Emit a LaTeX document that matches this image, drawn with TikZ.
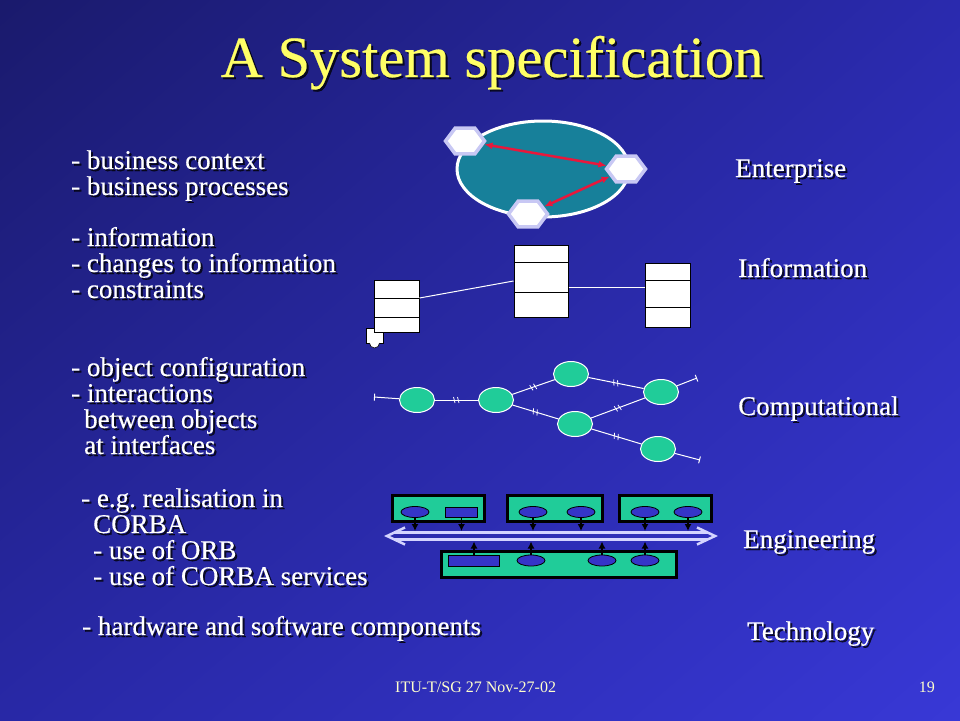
\documentclass[tikz,border=0pt]{standalone}
\usepackage{fontspec}
\setmainfont{Liberation Serif}
\newfontfamily\slidefont{Liberation Serif}[FakeBold=0.4]
\usetikzlibrary{calc, positioning, shapes.geometric, shadings, decorations.markings, arrows.meta}

\definecolor{bgUL}{HTML}{1A1A6C}
\definecolor{bgUR}{HTML}{2A2AAE}
\definecolor{bgLL}{HTML}{2828A6}
\definecolor{bgLR}{HTML}{3838D6}
\definecolor{titleyellow}{HTML}{FFFF66}
\definecolor{footyellow}{HTML}{FFFFCC}
\definecolor{entteal}{HTML}{17809A}
\definecolor{hexrim}{HTML}{C8C8F4}
\definecolor{arrowred}{HTML}{E8183C}
\definecolor{objgreen}{HTML}{20CC99}
\definecolor{compblue}{HTML}{3535C8}
\definecolor{buslilac}{HTML}{D4D4FF}

% text with a dark drop shadow
\newcommand{\stext}[4]{%
  \node[#1, text=black, opacity=.75] at ($(#3)+(2,2)$) {#4};
  \node[#1] (#2) at (#3) {#4};}

\tikzset{
  title/.style={font=\slidefont\fontsize{58.5}{60}\selectfont, text=titleyellow, anchor=base, inner sep=0},
  point/.style={font=\slidefont\fontsize{27}{26}\selectfont, text=white, anchor=base west, inner sep=0, align=left},
  level/.style={font=\slidefont\fontsize{27}{28}\selectfont, text=white, anchor=base west, inner sep=0},
  footer/.style={font=\fontsize{16}{18}\selectfont, text=footyellow, inner sep=0},
  hexa/.style={regular polygon, regular polygon sides=6, minimum size=30pt, xscale=1.3,
    fill=white, draw=hexrim, line width=3.5pt, inner sep=0},
  relarrow/.style={draw=arrowred, line width=2.5pt,
    {Latex[length=8pt,width=7pt]}-{Latex[length=8pt,width=7pt]}},
  cls/.style={draw=black, fill=white, line width=1pt, inner sep=0},
  assoc/.style={draw=white, line width=1pt},
  obj/.style={ellipse, fill=objgreen, draw=white, line width=1pt,
    minimum width=35, minimum height=25, inner sep=0},
  binding/.style={draw=white, line width=1pt, postaction={decorate},
    decoration={markings, mark=at position .5 with
      {\draw[line width=.8pt] (-3,-3) -- (-1.5,3) (1,-3) -- (2.5,3);}}},
  stub/.style={draw=white, line width=1pt, -{Bar[width=7pt]}},
  capsule/.style={draw=black, line width=3pt, fill=objgreen, inner sep=0, minimum height=26},
  comp/.style={ellipse, draw=black, line width=.8pt, fill=compblue,
    minimum width=28, minimum height=11, inner sep=0},
  compbox/.style={rectangle, draw=black, line width=.8pt, fill=compblue,
    minimum height=10, inner sep=0},
  bus/.style={draw=buslilac, line width=2.5pt},
  tap/.style={draw=black, line width=1.3pt, -{Latex[length=7pt,width=7pt]}},
}

\begin{document}
\begin{tikzpicture}[x=1pt, y=-1pt]
  \useasboundingbox (0,0) rectangle (960,720);
  \shade[upper left=bgUL, upper right=bgUR, lower left=bgLL, lower right=bgLR]
    (0,0) rectangle (960,720);

  % title and footer
  \stext{title}{heading}{492,77}{A System specification}
  \node[footer, anchor=base west] (footL) at (395,692) {ITU-T/SG 27 Nov-27-02};
  \node[footer, anchor=base east] (footR) at (935,692) {19};

  % left column (positions are the baselines of the last lines)
  \stext{point}{bizText}{71,195}{- business context\\- business processes}
  \stext{point}{infoText}{71,298}{- information\\- changes to information\\- constraints}
  \stext{point}{compText}{71,454}{- object configuration\\- interactions\\
    \hspace*{13pt}between objects\\\hspace*{13pt}at interfaces}
  \stext{point}{engText}{81,585}{- e.g.\ realisation in\\\hspace*{12pt}CORBA\\
    \hspace*{12pt}- use of ORB\\\hspace*{12pt}- use of CORBA services}
  \stext{point}{techText}{82,635}{- hardware and software components}

  % right column
  \stext{level}{enterprise}{735,177}{Enterprise}
  \stext{level}{information}{738,277}{Information}
  \stext{level}{computational}{738,415}{Computational}
  \stext{level}{engineering}{743,548}{Engineering}
  \stext{level}{technology}{747,640}{Technology}

  % enterprise
  \node[ellipse, draw=white, line width=3pt, fill=entteal, minimum width=172,
    minimum height=96] (community) at (543,169) {};
  \node[hexa] (role1) at (465,141) {};
  \node[hexa] (role2) at (626,169) {};
  \node[hexa] (role3) at (528,214) {};
  \draw[relarrow] (role1) -- (role2);
  \draw[relarrow] (role2) -- (role3);

  % information
  \draw[draw=black, fill=white, line width=.8pt] (366,328) rectangle (383,343);
  \draw[draw=black, fill=white, line width=.6pt] (369.5,343) arc[start angle=180, end angle=0, radius=5];
  \node[cls, minimum width=45, minimum height=52] (typeA) at (396.5,306) {};
  \node[cls, minimum width=54, minimum height=72] (typeB) at (541,281) {};
  \node[cls, minimum width=45, minimum height=64] (typeC) at (667.5,295) {};
  \draw ([yshift=-19pt]typeA.north west) -- ([yshift=-19pt]typeA.north east)
        ([yshift=-38pt]typeA.north west) -- ([yshift=-38pt]typeA.north east);
  \draw ([yshift=-18pt]typeB.north west) -- ([yshift=-18pt]typeB.north east)
        ([yshift=-48pt]typeB.north west) -- ([yshift=-48pt]typeB.north east);
  \draw ([yshift=-18pt]typeC.north west) -- ([yshift=-18pt]typeC.north east)
        ([yshift=-45pt]typeC.north west) -- ([yshift=-45pt]typeC.north east);
  \draw[assoc] ([yshift=8pt]typeA.east) -- (typeB.west);
  \draw[assoc] ([yshift=-6pt]typeB.east) -- ([yshift=8pt]typeC.west);

  % computational
  \node[obj] (obj1) at (417,400) {};
  \node[obj] (obj2) at (496,400) {};
  \node[obj] (obj3) at (571,374) {};
  \node[obj] (obj4) at (661,392) {};
  \node[obj] (obj5) at (575,424) {};
  \node[obj] (obj6) at (658,449) {};
  \coordinate (free1) at (374,397);
  \coordinate (free4) at (697,378);
  \coordinate (free6) at (700,460);
  \draw[stub] (obj1) -- (free1);
  \draw[stub] (obj4) -- (free4);
  \draw[stub] (obj6) -- (free6);
  \draw[binding] (obj1) -- (obj2);
  \draw[binding] (obj2) -- (obj3);
  \draw[binding] (obj2) -- (obj5);
  \draw[binding] (obj3) -- (obj4);
  \draw[binding] (obj5) -- (obj4);
  \draw[binding] (obj5) -- (obj6);

  % engineering
  \node[capsule, minimum width=92] (capsule1) at (438,508) {};
  \node[capsule, minimum width=95] (capsule2) at (554.5,508) {};
  \node[capsule, minimum width=92] (capsule3) at (665,508) {};
  \node[capsule, minimum width=235] (capsule4) at (559,564) {};
  \node[comp] (eng1) at (415,512) {};
  \node[compbox, minimum width=32] (eng2) at (461.5,512) {};
  \node[comp] (eng3) at (533,512) {};
  \node[comp] (eng4) at (581,512) {};
  \node[comp] (eng5) at (645,512) {};
  \node[comp] (eng6) at (688,512) {};
  \node[compbox, minimum width=51, minimum height=11] (eng7) at (474,560.5) {};
  \node[comp] (eng8) at (531,560.5) {};
  \node[comp] (eng9) at (602,560.5) {};
  \node[comp] (eng10) at (645,560.5) {};

  \coordinate (busL) at (387,536);
  \coordinate (busR) at (715,536);
  \coordinate (busT) at (550,531);
  \coordinate (busB) at (550,541.5);
  \draw[bus] ($(busL)+(18,-8.5)$) -- (busL) -- ($(busL)+(18,8.5)$);
  \draw[bus] ($(busR)+(-18,-8.5)$) -- (busR) -- ($(busR)+(-18,8.5)$);
  \draw[bus] ($(busL)+(7,-3.7)$) -- ($(busR)+(-7,-3.7)$);
  \draw[bus] ($(busL)+(7,3.7)$) -- ($(busR)+(-7,3.7)$);

  \foreach \c in {eng1,eng2,eng3,eng4,eng5,eng6}
    \draw[tap] (\c) -- (\c |- busT);
  \foreach \c in {eng7,eng8,eng9,eng10}
    \draw[tap] (\c) -- (\c |- busB);
\end{tikzpicture}
\end{document}
